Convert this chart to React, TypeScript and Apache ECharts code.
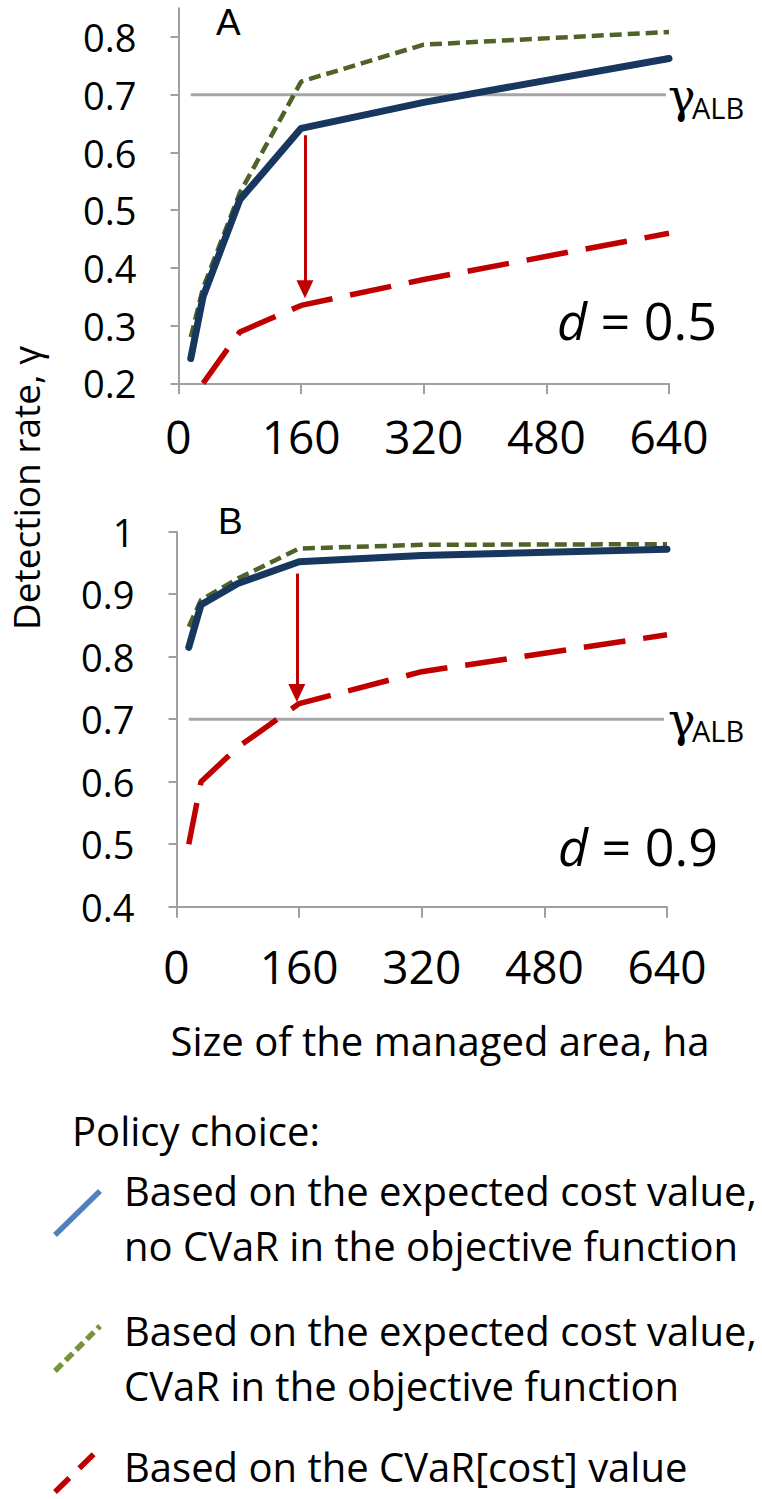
import React, { useEffect, useRef } from "react";
import * as echarts from "echarts";

// ---- data ----
const areaX = [16, 32, 80, 160, 320, 640];
const topExpectedNoCVaR = [0.243, 0.35, 0.518, 0.642, 0.687, 0.763];
const topExpectedCVaR = [0.28, 0.365, 0.53, 0.723, 0.787, 0.809];
const topCVaRCost = [null, 0.2, 0.289, 0.335, 0.38, 0.46];
const botExpectedNoCVaR = [0.815, 0.883, 0.917, 0.952, 0.962, 0.972];
const botExpectedCVaR = [0.848, 0.891, 0.925, 0.973, 0.979, 0.98];
const botCVaRCost = [0.5, 0.6, 0.655, 0.725, 0.776, 0.835];
const gammaALB = 0.7;
const gammaX = [16, 636];
const topArrow = { x: 165, from: 0.63, to: 0.363 };
const botArrow = { x: 157, from: 0.933, to: 0.742 };
const xTicks = [0, 160, 320, 480, 640];
const topYTicks = [0.2, 0.3, 0.4, 0.5, 0.6, 0.7, 0.8];
const botYTicks = [0.4, 0.5, 0.6, 0.7, 0.8, 0.9, 1];

const FONT = "'Open Sans', 'Noto Sans', sans-serif";
const PANEL_FONT = "'Liberation Sans', Arial, sans-serif";
const SERIF = "'DejaVu Serif', 'Liberation Serif', serif";
const AXIS_GRAY = "#a0a0a0";
const BLUE = "#17375e";
const GREEN = "#4f6228";
const RED = "#c00000";

const pairs = (xs: number[], ys: (number | null)[]) =>
  xs.map((x, i) => [x, ys[i] === null ? null : ys[i]]);

function xAxis(gridIndex: number, margin: number) {
  return {
    type: "value",
    gridIndex,
    min: 0,
    max: 640,
    interval: 160,
    axisLine: { show: true, onZero: false, lineStyle: { color: AXIS_GRAY, width: 2 } },
    axisTick: { show: true, length: 11, lineStyle: { color: AXIS_GRAY, width: 2 }, customValues: xTicks },
    axisLabel: { fontSize: 46, fontFamily: FONT, color: "#000", margin, customValues: xTicks },
    splitLine: { show: false },
  };
}

function yAxis(gridIndex: number, min: number, max: number, ticks: number[]) {
  return {
    type: "value",
    gridIndex,
    min,
    max,
    interval: 0.1,
    axisLine: { show: true, onZero: false, lineStyle: { color: AXIS_GRAY, width: 2 } },
    axisTick: { show: true, length: 8, lineStyle: { color: AXIS_GRAY, width: 2 }, customValues: ticks },
    axisLabel: {
      fontSize: 38,
      fontFamily: FONT,
      color: "#000",
      margin: 42,
      customValues: ticks,
      formatter: (v: number) => String(Math.round(v * 10) / 10),
    },
    splitLine: { show: false },
  };
}

function panelSeries(
  idx: number,
  blue: (number | null)[],
  green: (number | null)[],
  red: (number | null)[],
  arrow: { x: number; from: number; to: number }
) {
  return [
    {
      type: "line",
      xAxisIndex: idx,
      yAxisIndex: idx,
      data: gammaX.map((x) => [x, gammaALB]),
      showSymbol: false,
      lineStyle: { color: "#a6a6a6", width: 3 },
      z: 1,
    },
    {
      type: "line",
      xAxisIndex: idx,
      yAxisIndex: idx,
      data: pairs(areaX, green),
      showSymbol: false,
      lineStyle: { color: GREEN, width: 4.5, type: [12, 6] },
      z: 2,
    },
    {
      type: "line",
      xAxisIndex: idx,
      yAxisIndex: idx,
      data: pairs(areaX, blue),
      showSymbol: false,
      lineStyle: { color: BLUE, width: 7, cap: "round", join: "round" },
      z: 3,
    },
    {
      type: "line",
      xAxisIndex: idx,
      yAxisIndex: idx,
      data: pairs(areaX, red),
      showSymbol: false,
      connectNulls: false,
      lineStyle: { color: RED, width: 5.5, type: [42, 18] },
      z: 4,
      markLine: {
        silent: true,
        symbol: ["none", "triangle"],
        symbolSize: [17, 18],
        label: { show: false },
        lineStyle: { color: RED, width: 3, type: "solid" },
        data: [[{ coord: [arrow.x, arrow.from] }, { coord: [arrow.x, arrow.to] }]],
      },
    },
  ];
}

function txt(x: number, y: number, text: string, fontSize: number, extra: any = {}) {
  return {
    type: "text",
    x,
    y,
    ...extra.el,
    style: {
      text,
      fontSize,
      fontFamily: FONT,
      fill: "#000",
      align: "left",
      verticalAlign: "middle",
      ...extra.style,
    },
  };
}

function dLabel(x: number, y: number, text: string) {
  return {
    type: "text",
    x,
    y,
    style: {
      text: "{i|d}{n| = " + text + "}",
      fontFamily: FONT,
      verticalAlign: "middle",
      rich: {
        i: { fontSize: 52, fontStyle: "italic", fontFamily: FONT, fill: "#000" },
        n: { fontSize: 52, fontFamily: FONT, fill: "#000" },
      },
    },
  };
}

function gammaText(x: number, y: number) {
  return {
    type: "text",
    x,
    y,
    style: {
      text: "γ",
      fontSize: 46,
      fontFamily: SERIF,
      fill: "#000",
      align: "left",
      verticalAlign: "middle",
    },
  };
}

export default function App() {
  const ref = useRef<HTMLDivElement>(null);

  useEffect(() => {
    if (!ref.current) return;
    const chart = echarts.init(ref.current, null, { renderer: "svg" });

    const legendText = [
      { y: 1190, t: "Based on the expected cost value," },
      { y: 1245, t: "no CVaR in the objective function" },
      { y: 1330, t: "Based on the expected cost value," },
      { y: 1385, t: "CVaR in the objective function" },
      { y: 1466, t: "Based on the CVaR[cost] value" },
    ];

    const graphic: any[] = [
      txt(216, 22, "A", 37, { style: { fontFamily: PANEL_FONT } }),
      txt(218, 521, "B", 37, { style: { fontFamily: PANEL_FONT } }),
      dLabel(557, 319, "0.5"),
      dLabel(558, 845, "0.9"),
      gammaText(668, 96),
      txt(692, 107, "ALB", 29),
      gammaText(668, 720),
      txt(692, 730, "ALB", 29),
      txt(25, 488, "Detection rate, γ", 37, {
        el: { rotation: Math.PI / 2 },
        style: { align: "center" },
      }),
      txt(440, 1040, "Size of the managed area, ha", 40, { style: { align: "center" } }),
      txt(72, 1130, "Policy choice:", 40),
      ...legendText.map((l) => txt(124, l.y, l.t, 40)),
      {
        type: "line",
        shape: { x1: 55, y1: 1235, x2: 100, y2: 1191 },
        style: { stroke: "#4f81bd", lineWidth: 5.5 },
      },
      {
        type: "line",
        shape: { x1: 55, y1: 1371, x2: 100, y2: 1326 },
        style: { stroke: "#77933c", lineWidth: 5.5, lineDash: [10, 5] },
      },
      {
        type: "line",
        shape: { x1: 55, y1: 1492, x2: 100, y2: 1448 },
        style: { stroke: RED, lineWidth: 5.5, lineDash: [20, 14] },
      },
    ];

    chart.setOption({
      animation: false,
      backgroundColor: "#fff",
      grid: [
        { left: 178.5, top: 8.3, width: 490.5, height: 375 },
        { left: 176.5, top: 531.7, width: 490.5, height: 375 },
      ],
      xAxis: [xAxis(0, 30), xAxis(1, 36)],
      yAxis: [yAxis(0, 0.2, 0.85, topYTicks), yAxis(1, 0.4, 1, botYTicks)],
      series: [
        ...panelSeries(0, topExpectedNoCVaR, topExpectedCVaR, topCVaRCost, topArrow),
        ...panelSeries(1, botExpectedNoCVaR, botExpectedCVaR, botCVaRCost, botArrow),
      ],
      graphic,
    });

    return () => chart.dispose();
  }, []);

  return (
    <div
      ref={ref}
      style={{ position: "absolute", left: 0, top: 0, width: 762, height: 1499 }}
    />
  );
}
